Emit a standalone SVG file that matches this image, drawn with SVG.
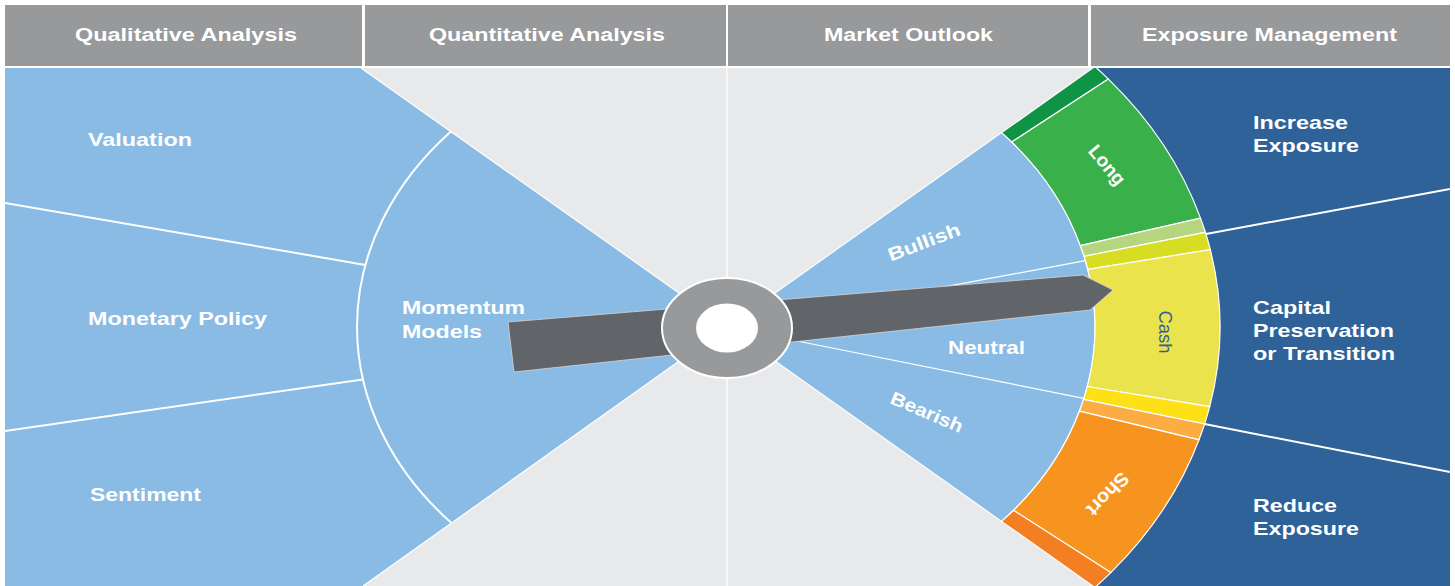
<svg xmlns="http://www.w3.org/2000/svg" width="1455" height="586" viewBox="0 0 1455 586">
<defs>
<style>
.hdr{fill:#98999b}
.ht{fill:#fff;font-family:"Liberation Sans",Arial,sans-serif;font-size:18px;font-weight:bold}
.lb{fill:#fff;font-family:"Liberation Sans",Arial,sans-serif;font-size:18.5px;font-weight:bold}
.wl{stroke:#fff;stroke-width:2;fill:none}
.tl{stroke:#fff;stroke-width:1.2;fill:none}
.seg{stroke:#fff;stroke-width:1.2}
</style>
<clipPath id="body"><rect x="5" y="68" width="1445" height="518"/></clipPath>
</defs>
<rect width="1455" height="586" fill="#fff"/>
<g id="headers">
<rect class="hdr" x="5" y="5" width="357" height="61"/>
<rect class="hdr" x="365" y="5" width="361" height="61"/>
<rect class="hdr" x="728" y="5" width="360" height="61"/>
<rect class="hdr" x="1091" y="5" width="359" height="61"/>
<text class="ht" x="75" y="41" textLength="222" lengthAdjust="spacingAndGlyphs">Qualitative Analysis</text>
<text class="ht" x="429" y="41" textLength="236" lengthAdjust="spacingAndGlyphs">Quantitative Analysis</text>
<text class="ht" x="824" y="41" textLength="169" lengthAdjust="spacingAndGlyphs">Market Outlook</text>
<text class="ht" x="1142" y="41" textLength="255" lengthAdjust="spacingAndGlyphs">Exposure Management</text>
</g>
<g clip-path="url(#body)">
<rect x="5" y="68" width="1445" height="518" fill="#e8e9eb"/>
<line x1="727" y1="68" x2="727" y2="586" class="tl"/>
<g id="qualitative">
<path d="M727 327 L361 68 L5 68 L5 586 L363 586 Z" fill="#8abbe5"/>
<line x1="727" y1="327" x2="361" y2="68" class="tl"/>
<line x1="727" y1="327" x2="363" y2="586" class="tl"/>
</g>
<g id="exposure">
<path d="M727 327 L1093 68 L1450 68 L1450 586 L1093 586 Z" fill="#2e6299"/>
</g>
<g id="outlook">
<path d="M727 327 L1001.6 132.6 A368 292 0 0 1 1001.6 521.4 Z" fill="#8abbe5" class="seg"/>
</g>
<g id="band">
<path class="seg" fill="#0f9445" d="M1001.6 132.6 L1094.9 66.5 A493 391 0 0 1 1108.4 79.1 L1011.7 142 A368 292 0 0 0 1001.6 132.6 Z"/>
<path class="seg" fill="#39b04a" d="M1011.7 142 L1108.4 79.1 A493 391 0 0 1 1200.5 218.1 L1080.4 245.7 A368 292 0 0 0 1011.7 142 Z"/>
<path class="seg" fill="#b5d67e" d="M1080.4 245.7 L1200.5 218.1 A493 391 0 0 1 1205.4 232.3 L1084.1 256.3 A368 292 0 0 0 1080.4 245.7 Z"/>
<path class="seg" fill="#d6dd23" d="M1084.1 256.3 L1205.4 232.3 A493 391 0 0 1 1210.3 249.7 L1087.8 269.3 A368 292 0 0 0 1084.1 256.3 Z"/>
<path class="seg" fill="#ebe34c" d="M1087.8 269.3 L1210.3 249.7 A493 391 0 0 1 1209.7 406.6 L1087.3 386.5 A368 292 0 0 0 1087.8 269.3 Z"/>
<path class="seg" fill="#fde016" d="M1087.3 386.5 L1209.7 406.6 A493 391 0 0 1 1204.6 424 L1083.5 399.4 A368 292 0 0 0 1087.3 386.5 Z"/>
<path class="seg" fill="#fbac43" d="M1083.5 399.4 L1204.6 424 A493 391 0 0 1 1199 439.8 L1079.4 411.2 A368 292 0 0 0 1083.5 399.4 Z"/>
<path class="seg" fill="#f7941f" d="M1079.4 411.2 L1199 439.8 A493 391 0 0 1 1110.8 572.6 L1013.5 510.3 A368 292 0 0 0 1079.4 411.2 Z"/>
<path class="seg" fill="#f47f22" d="M1013.5 510.3 L1110.8 572.6 A493 391 0 0 1 1094.9 587.5 L1001.6 521.4 A368 292 0 0 0 1013.5 510.3 Z"/>
</g>
<g id="connectors">
<path class="wl" d="M450.9 131.5 A370 293.7 0 0 0 450.9 522.5"/>
<line class="wl" x1="365.4" y1="264.9" x2="5" y2="203"/>
<line class="wl" x1="362.9" y1="379.4" x2="5" y2="431"/>
<line class="tl" x1="727" y1="327" x2="1085.4" y2="260.7"/>
<line class="tl" x1="727" y1="327" x2="1083.8" y2="398.4"/>
<line class="wl" x1="1206" y1="234" x2="1450" y2="189"/>
<line class="wl" x1="1204.6" y1="424" x2="1450" y2="472"/>
</g>
</g>
<g id="labels-left">
<text class="lb" x="88" y="145.5" textLength="104" lengthAdjust="spacingAndGlyphs">Valuation</text>
<text class="lb" x="88" y="325" textLength="179" lengthAdjust="spacingAndGlyphs">Monetary Policy</text>
<text class="lb" x="90" y="500.5" textLength="111" lengthAdjust="spacingAndGlyphs">Sentiment</text>
</g>
<g id="momentum">
<text class="lb" x="402" y="313.5" textLength="123" lengthAdjust="spacingAndGlyphs">Momentum</text>
<text class="lb" x="402" y="337.5" textLength="80" lengthAdjust="spacingAndGlyphs">Models</text>
</g>
<g id="outlook-labels">
<text class="lb" transform="translate(924 242) rotate(-20.6)" x="0" y="6.5" text-anchor="middle" textLength="76" lengthAdjust="spacingAndGlyphs">Bullish</text>
<text class="lb" x="948" y="353.5" textLength="77" lengthAdjust="spacingAndGlyphs">Neutral</text>
<text class="lb" transform="translate(927 412) rotate(23)" x="0" y="6.5" text-anchor="middle" textLength="77" lengthAdjust="spacingAndGlyphs">Bearish</text>
</g>
<g id="band-labels">
<text transform="translate(1107 165) rotate(50)" x="0" y="6.5" text-anchor="middle" textLength="46" lengthAdjust="spacingAndGlyphs" style="fill:#fff;font-family:'Liberation Sans',Arial,sans-serif;font-size:19px;font-weight:bold">Long</text>
<text transform="translate(1165 332) rotate(90)" x="0" y="6.5" text-anchor="middle" textLength="43" lengthAdjust="spacingAndGlyphs" style="fill:#2e6299;font-family:'Liberation Sans',Arial,sans-serif;font-size:19px">Cash</text>
<text transform="translate(1108 494) rotate(134)" x="0" y="6.5" text-anchor="middle" textLength="52" lengthAdjust="spacingAndGlyphs" style="fill:#fff;font-family:'Liberation Sans',Arial,sans-serif;font-size:19px;font-weight:bold">Short</text>
</g>
<g id="exposure-labels">
<text class="lb" x="1253" y="128.5" textLength="95" lengthAdjust="spacingAndGlyphs">Increase</text>
<text class="lb" x="1253" y="151.5" textLength="106" lengthAdjust="spacingAndGlyphs">Exposure</text>
<text class="lb" x="1253" y="313.5" textLength="78" lengthAdjust="spacingAndGlyphs">Capital</text>
<text class="lb" x="1253" y="336.5" textLength="141" lengthAdjust="spacingAndGlyphs">Preservation</text>
<text class="lb" x="1253" y="359.5" textLength="142" lengthAdjust="spacingAndGlyphs">or Transition</text>
<text class="lb" x="1253" y="511.5" textLength="84" lengthAdjust="spacingAndGlyphs">Reduce</text>
<text class="lb" x="1253" y="534.5" textLength="106" lengthAdjust="spacingAndGlyphs">Exposure</text>
</g>
<g id="needle">
<polygon points="508,322 1083,275 1113,290 1090,310 514,372" fill="#616469" stroke="#d4d6d8" stroke-width="0.8"/>
</g>
<g id="hub">
<ellipse cx="727" cy="328" rx="65" ry="50" fill="#98999b" stroke="#fff" stroke-width="2"/>
<ellipse cx="727" cy="328" rx="31" ry="24.5" fill="#fff"/>
</g>
</svg>
